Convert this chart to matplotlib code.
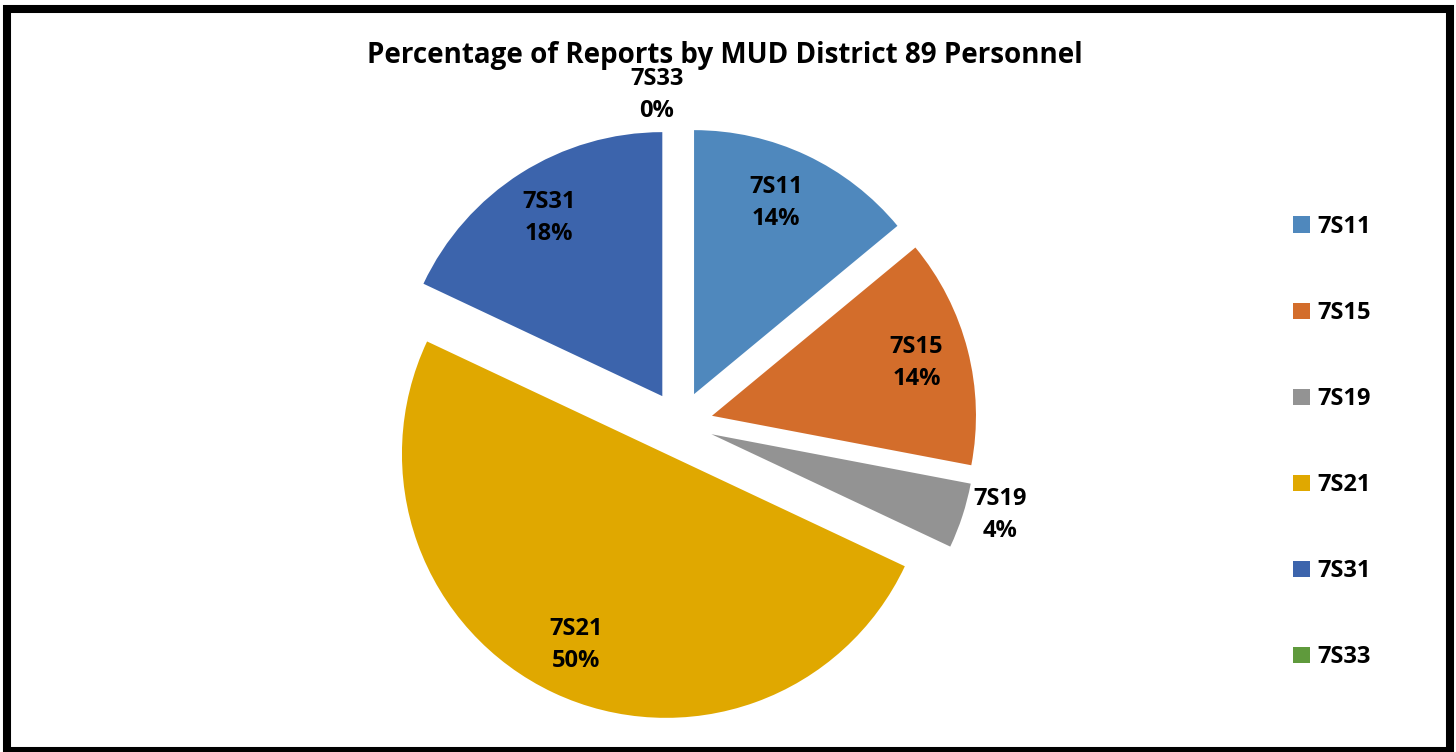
import matplotlib
matplotlib.use("Agg")
import matplotlib.pyplot as plt
from matplotlib.patches import Rectangle
import numpy as np

categories = ["7S11", "7S15", "7S19", "7S21", "7S31", "7S33"]
counts = [7, 7, 2, 25, 9, 0]
colors = ["#4F88BD", "#D36D2B", "#939393", "#E0A800", "#3C64AC", "#5F9A3C"]
title = "Percentage of Reports by MUD District 89 Personnel"

plt.rcParams['font.family'] = ['Open Sans', 'DejaVu Sans']

W, H = 1456, 752
fig = plt.figure(figsize=(W / 100, H / 100), dpi=100)
ax = fig.add_axes([0, 0, 1, 1])
R = 264.0
cx, cy = 680.0, 424.0

total = sum(counts)
wedges, _ = ax.pie(counts, colors=colors, startangle=90, counterclock=False,
                   explode=[0.125] * len(counts), radius=1.0,
                   wedgeprops=dict(linewidth=0))
ax.set_aspect('auto')
ax.set_xlim(-cx / R, (W - cx) / R)
ax.set_ylim(-(H - cy) / R, cy / R)
ax.axis('off')

label_dist = [0.80, 0.80, 1.15, 0.80, 0.80, 1.12]
label_dx = [-0.03, 0.0, 0.0, 0.0, 0.0, -0.088]
label_dy = [0.0, 0.0, 0.05, 0.0, 0.0, 0.0]
for w, name, c, d, dx, dy in zip(wedges, categories, counts, label_dist,
                                 label_dx, label_dy):
    th = np.deg2rad((w.theta1 + w.theta2) / 2)
    x0, y0 = w.center
    pct = 100.0 * c / total
    ax.text(x0 + d * np.cos(th) + dx, y0 + d * np.sin(th) + dy,
            f"{name}\n{pct:.0f}%",
            ha='center', va='center', fontsize=17, fontweight='bold',
            linespacing=1.45, color='black')

fig.text(0.498, 1 - 55 / H, title, ha='center', va='center',
         fontsize=20, fontweight='bold')

leg = fig.legend(wedges, categories, loc='upper left',
                 bbox_to_anchor=(1293 / W, 1 - 215 / H), frameon=False,
                 prop=dict(size=17, weight='bold'), handlelength=0.7,
                 handleheight=0.7, handletextpad=0.35, labelspacing=2.63,
                 borderaxespad=0, borderpad=0)

fig.patches.append(Rectangle((7 / W, 1 - 9 / H), (1450 - 7) / W, -(751 - 9) / H,
                             transform=fig.transFigure, fill=False,
                             edgecolor='black', linewidth=5.8))

fig.savefig("out.png", dpi=100)
